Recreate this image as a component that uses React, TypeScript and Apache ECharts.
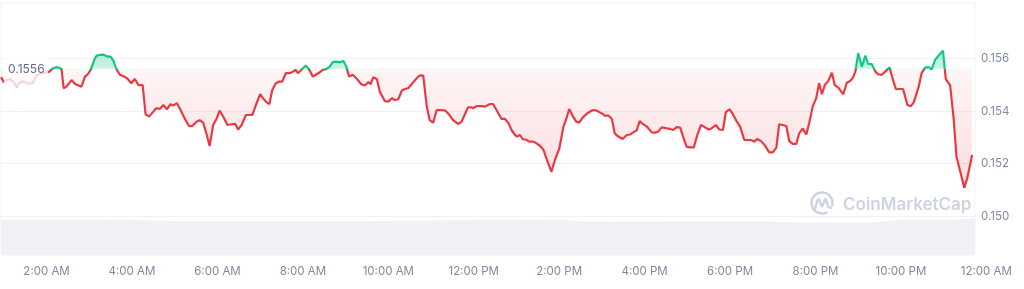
import React, { useEffect, useRef } from "react";
import * as echarts from "echarts";

// Reference (open) price shown as dotted line
const refPrice = 0.1556;

// [minutes after midnight, price]
const pricePoints: [number, number][] = [
  [56,0.15528],[60,0.15509],[64,0.15517],[68,0.15521],[73,0.15511],[78,0.15490],[80,0.15501],[85,0.15511],[90,0.15509],[94,0.15502],
  [99,0.15505],[101,0.15507],[104,0.15524],[106,0.15534],[113,0.15543],[118,0.15545],[124,0.15549],[129,0.15562],[134,0.15566],[139,0.15562],
  [141,0.15559],[144,0.15486],[148,0.15492],[155,0.15517],[160,0.15502],[165,0.15496],[169,0.15492],[174,0.15530],[178,0.15539],[182,0.15556],
  [188,0.15600],[190,0.15609],[195,0.15613],[200,0.15614],[203,0.15609],[207,0.15606],[210,0.15606],[214,0.15590],[218,0.15559],[223,0.15537],
  [229,0.15530],[233,0.15524],[239,0.15505],[244,0.15521],[249,0.15498],[255,0.15498],[259,0.15387],[264,0.15378],[270,0.15397],[274,0.15410],
  [279,0.15407],[284,0.15422],[289,0.15406],[294,0.15425],[298,0.15420],[303,0.15429],[307,0.15410],[314,0.15371],[320,0.15342],[325,0.15343],
  [331,0.15359],[335,0.15364],[340,0.15355],[345,0.15308],[349,0.15266],[354,0.15346],[359,0.15371],[363,0.15401],[368,0.15378],[374,0.15346],
  [380,0.15349],[385,0.15350],[389,0.15329],[394,0.15346],[400,0.15384],[406,0.15384],[409,0.15384],[414,0.15422],[420,0.15463],[424,0.15448],
  [429,0.15432],[433,0.15426],[437,0.15479],[442,0.15505],[447,0.15511],[451,0.15511],[456,0.15543],[462,0.15543],[466,0.15549],[470,0.15556],
  [473,0.15543],[478,0.15556],[484,0.15572],[489,0.15556],[494,0.15530],[498,0.15537],[503,0.15545],[508,0.15556],[512,0.15558],[517,0.15566],
  [522,0.15585],[526,0.15587],[532,0.15585],[537,0.15589],[541,0.15568],[545,0.15530],[550,0.15537],[555,0.15524],[562,0.15501],[567,0.15496],
  [572,0.15509],[575,0.15501],[579,0.15528],[584,0.15520],[588,0.15473],[595,0.15437],[600,0.15435],[605,0.15448],[609,0.15441],[614,0.15444],
  [619,0.15477],[623,0.15483],[628,0.15486],[635,0.15509],[642,0.15530],[645,0.15535],[649,0.15534],[654,0.15416],[658,0.15365],[663,0.15355],
  [668,0.15403],[673,0.15403],[680,0.15401],[684,0.15390],[691,0.15365],[698,0.15350],[703,0.15359],[708,0.15390],[712,0.15413],[717,0.15413],
  [719,0.15410],[724,0.15418],[731,0.15418],[736,0.15416],[740,0.15422],[743,0.15426],[747,0.15426],[752,0.15403],[759,0.15369],[764,0.15369],
  [769,0.15352],[773,0.15327],[778,0.15308],[781,0.15302],[785,0.15308],[789,0.15291],[793,0.15291],[798,0.15283],[804,0.15283],[808,0.15276],
  [813,0.15267],[818,0.15251],[822,0.15219],[829,0.15168],[834,0.15213],[840,0.15255],[846,0.15340],[850,0.15369],[854,0.15407],[859,0.15380],
  [864,0.15359],[868,0.15355],[873,0.15374],[879,0.15390],[886,0.15401],[890,0.15403],[895,0.15397],[900,0.15390],[904,0.15382],[909,0.15382],
  [914,0.15369],[918,0.15314],[923,0.15302],[929,0.15293],[935,0.15308],[940,0.15310],[944,0.15318],[949,0.15326],[953,0.15361],[957,0.15351],
  [963,0.15340],[970,0.15318],[975,0.15317],[979,0.15321],[984,0.15337],[991,0.15333],[996,0.15331],[1000,0.15327],[1005,0.15338],[1010,0.15336],
  [1014,0.15302],[1019,0.15263],[1024,0.15261],[1029,0.15261],[1034,0.15308],[1039,0.15346],[1043,0.15340],[1050,0.15329],[1054,0.15333],[1060,0.15346],
  [1065,0.15329],[1070,0.15327],[1074,0.15394],[1079,0.15406],[1084,0.15387],[1089,0.15361],[1094,0.15340],[1100,0.15289],[1104,0.15289],[1109,0.15289],
  [1114,0.15283],[1118,0.15293],[1123,0.15285],[1128,0.15272],[1135,0.15242],[1140,0.15242],[1145,0.15260],[1149,0.15349],[1154,0.15346],[1159,0.15342],
  [1163,0.15285],[1168,0.15274],[1173,0.15274],[1177,0.15314],[1182,0.15332],[1187,0.15310],[1191,0.15352],[1196,0.15416],[1201,0.15448],[1205,0.15505],
  [1209,0.15463],[1213,0.15498],[1218,0.15514],[1223,0.15545],[1227,0.15498],[1232,0.15488],[1239,0.15463],[1244,0.15507],[1249,0.15514],[1253,0.15528],
  [1256,0.15549],[1260,0.15619],[1265,0.15568],[1270,0.15610],[1274,0.15578],[1279,0.15578],[1284,0.15549],[1288,0.15539],[1293,0.15537],[1298,0.15549],
  [1304,0.15566],[1308,0.15524],[1313,0.15482],[1318,0.15483],[1323,0.15483],[1329,0.15422],[1334,0.15418],[1338,0.15432],[1345,0.15492],[1349,0.15543],
  [1354,0.15564],[1359,0.15566],[1363,0.15558],[1368,0.15594],[1374,0.15613],[1379,0.15629],[1383,0.15520],[1389,0.15498],[1394,0.15371],[1398,0.15225],
  [1404,0.15162],[1409,0.15107],[1413,0.15143],[1420,0.15232],
];

// Volume profile (minutes, relative volume)
const volTimes = [56, 195, 317, 545, 840, 882, 1120, 1180, 1274, 1320, 1396, 1424];
const volValues = [95, 95, 92, 92, 95, 90, 91, 87, 87, 95, 95, 99];

// Tick positions
const xTickMinutes = [120, 240, 360, 480, 600, 720, 840, 960, 1080, 1200, 1320, 1440];
const yTickValues = [0.15, 0.152, 0.154, 0.156];

const X_MIN = 56;
const X_MAX = 1424;
const LABEL_X_MAX = 1460;
const PLOT_LEFT = 1;
const PLOT_WIDTH = 974;

const RED = "#ea3943";
const GREEN = "#16c784";
const GRID_LINE = "#eff2f5";
const LABEL = "#808a9d";
const WATERMARK = "#cdd4e0";
const FONT = "Inter, 'Noto Sans', sans-serif";

function fmtTime(v: number): string {
  const h = Math.round(v / 60) % 24;
  const suffix = h < 12 ? "AM" : "PM";
  const hh = h % 12 === 0 ? 12 : h % 12;
  return `${hh}:00 ${suffix}`;
}

export default function App() {
  const ref = useRef<HTMLDivElement>(null);

  useEffect(() => {
    if (!ref.current) return;
    const chart = echarts.init(ref.current, undefined, { renderer: "svg" });

    const prices = pricePoints.map((p) => p[1]);
    const maxP = Math.max(...prices);
    const minP = Math.min(...prices);
    const t = (maxP - refPrice) / (maxP - minP);
    const labelWidth = ((LABEL_X_MAX - X_MIN) * PLOT_WIDTH) / (X_MAX - X_MIN);

    chart.setOption({
      animation: false,
      grid: [
        { left: PLOT_LEFT, top: 3, width: PLOT_WIDTH, height: 213 },
        { left: PLOT_LEFT, top: 218, width: PLOT_WIDTH, height: 37 },
        { left: PLOT_LEFT, top: 3, width: labelWidth, height: 252 },
        {
          left: PLOT_LEFT, top: 3, width: PLOT_WIDTH, height: 252,
          show: true, borderColor: GRID_LINE, borderWidth: 1, backgroundColor: "transparent",
        },
      ],
      xAxis: [
        { type: "value", gridIndex: 0, min: X_MIN, max: X_MAX, show: false },
        { type: "value", gridIndex: 1, min: X_MIN, max: X_MAX, show: false },
        {
          type: "value", gridIndex: 2, min: X_MIN, max: LABEL_X_MAX,
          axisLine: { show: false }, axisTick: { show: false }, splitLine: { show: false },
          axisLabel: {
            customValues: xTickMinutes,
            formatter: (v: number) => fmtTime(v),
            color: LABEL, fontSize: 11.5, fontFamily: FONT, margin: 10,
          },
        },
        { type: "value", gridIndex: 3, min: 0, max: 1, show: false },
      ],
      yAxis: [
        {
          type: "value", gridIndex: 0, position: "right", min: 0.15, max: 0.1581,
          axisLine: { show: false },
          axisTick: { show: false, customValues: yTickValues },
          splitLine: { lineStyle: { color: GRID_LINE, width: 1 } },
          axisLabel: {
            customValues: yTickValues,
            color: LABEL, fontSize: 11.5, fontFamily: FONT, margin: 6,
            formatter: (v: number) => v.toFixed(3),
          },
        },
        { type: "value", gridIndex: 1, min: 0, max: 100, show: false },
        { type: "value", gridIndex: 2, min: 0, max: 1, show: false },
        { type: "value", gridIndex: 3, min: 0, max: 1, show: false },
      ],
      visualMap: {
        type: "piecewise", show: false, seriesIndex: 0, dimension: 1,
        pieces: [
          { gt: refPrice, lte: 1, color: GREEN },
          { gte: 0, lte: refPrice, color: RED },
        ],
      },
      series: [
        {
          type: "line", xAxisIndex: 0, yAxisIndex: 0,
          data: pricePoints,
          showSymbol: false, symbol: "none",
          lineStyle: { width: 2.2 },
          areaStyle: {
            origin: refPrice,
            opacity: 1,
            color: new echarts.graphic.LinearGradient(0, 0, 0, 1, [
              { offset: 0, color: "rgba(22,199,132,0.32)" },
              { offset: t, color: "rgba(22,199,132,0.22)" },
              { offset: t, color: "rgba(234,57,67,0.05)" },
              { offset: 1, color: "rgba(234,57,67,0.17)" },
            ]),
          },
          markLine: {
            silent: true, symbol: "none",
            lineStyle: { color: "#9aa3b5", type: [1, 3], width: 1 },
            label: { show: false },
            data: [{ yAxis: refPrice }],
          },
        },
        {
          type: "line", xAxisIndex: 1, yAxisIndex: 1,
          data: volTimes.map((tm, i) => [tm, volValues[i]]),
          showSymbol: false, symbol: "none",
          lineStyle: { width: 0 },
          areaStyle: { color: "#eff1f5", opacity: 1 },
          silent: true,
        },
      ],
    });

    const [px, py] = chart.convertToPixel({ xAxisIndex: 0, yAxisIndex: 0 }, [X_MIN, refPrice]) as number[];

    chart.setOption({
      graphic: [
        {
          type: "rect", z: 100,
          shape: { x: px + 3, y: py - 14, width: 44, height: 33 },
          style: { fill: "rgba(255,255,255,0.78)" },
        },
        {
          type: "text", z: 101, x: px + 7, y: py,
          style: {
            text: String(refPrice), fill: "#616e85", fontSize: 12,
            fontFamily: FONT, verticalAlign: "middle",
          },
        },
        {
          type: "arc", z: 1,
          shape: { cx: 822, cy: 203, r: 10.5, startAngle: Math.PI / 3, endAngle: Math.PI * 2 + Math.PI / 10, clockwise: true },
          style: { stroke: WATERMARK, lineWidth: 2.6, fill: "none" },
        },
        {
          type: "polyline", z: 1,
          shape: { points: [[815, 209], [818.5, 199], [822, 206.5], [825.5, 199], [828.5, 207], [832, 207.5]], smooth: 0.3 },
          style: { stroke: WATERMARK, lineWidth: 2.4, fill: "none" },
        },
        {
          type: "text", z: 1, x: 843, y: 204,
          style: {
            text: "CoinMarketCap", fill: WATERMARK, fontSize: 17, fontWeight: 600,
            fontFamily: FONT, verticalAlign: "middle",
          },
        },
      ],
    });

    return () => chart.dispose();
  }, []);

  return (
    <div
      ref={ref}
      style={{ position: "fixed", left: 0, top: 0, width: 1024, height: 289 }}
    />
  );
}
